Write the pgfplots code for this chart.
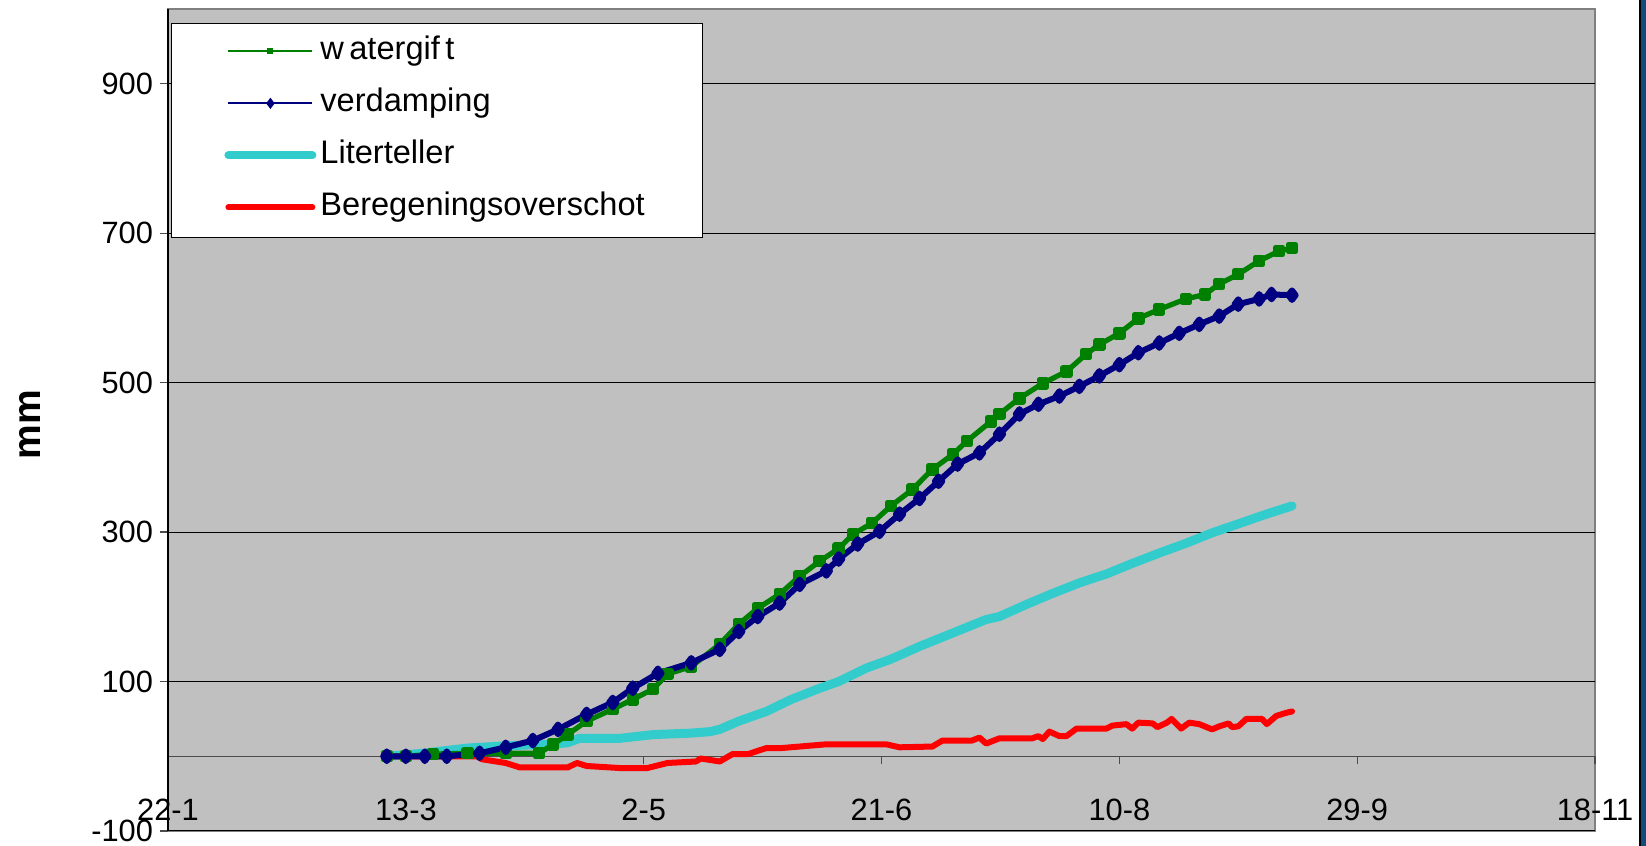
\documentclass[border=0pt]{standalone}
\usepackage{fontspec}
\setmainfont{Liberation Sans}
\usepackage{pgfplots}
\pgfplotsset{compat=1.18}

\definecolor{plotbg}{HTML}{C0C0C0}
\definecolor{framegray}{HTML}{808080}
\definecolor{wgreen}{HTML}{008000}
\definecolor{vblue}{HTML}{000080}
\definecolor{lcyan}{HTML}{33CCCC}
\definecolor{bred}{HTML}{FF0000}
\definecolor{slideblue}{HTML}{134A7C}

\begin{document}
\begin{tikzpicture}
% page size (1 px = 0.5 pt)
\useasboundingbox (-84pt,-7.5pt) rectangle (739pt,415.5pt);
% edge of the slide on the right
\fill[black] (735.5pt,-7.5pt) rectangle (736.5pt,415.5pt);
\fill[slideblue] (736.5pt,-7.5pt) rectangle (739pt,415.5pt);

\begin{axis}[
    at={(0,0)}, anchor=south west, scale only axis,
    width=713.5pt, height=411pt,
    xmin=22, xmax=322, ymin=-100, ymax=1000,
    axis x line=middle, axis y line=left,
    axis line style={-},
    x axis line style={black!70, line width=0.6pt},
    y axis line style={black, line width=0.7pt},
    axis background/.style={fill=plotbg, draw=framegray, line width=1.2pt},
    hide obscured x ticks=false, hide obscured y ticks=false,
    xtick={22,72,122,172,222,272,322},
    xticklabels={22-1,13-3,2-5,21-6,10-8,29-9,18-11},
    ytick={-100,100,300,500,700,900},
    yticklabels={-100,100,300,500,700,900},
    tick align=outside, major tick length=4pt,
    tick style={black!70, line width=0.6pt},
    ymajorgrids, grid style={black, line width=0.5pt},
    tick label style={font=\fontsize{15.4pt}{18pt}\selectfont},
    xticklabel style={anchor=north, yshift=-14pt},
    yticklabel style={anchor=east},
    ylabel={\textbf{mm}},
    every axis y label/.style={at={(axis description cs:-0.097,0.494)},
        rotate=90, anchor=center, font=\fontsize{19.5pt}{22pt}\selectfont},
    legend image code/.code={\draw[mark repeat=2,mark phase=2,#1]
        plot coordinates {(0pt,0pt) (21pt,0pt) (42pt,0pt)};},
    legend style={at={(rel axis cs:0.0021,0.9818)}, anchor=north west,
        xshift=26.5pt, yshift=-6pt, draw=none, fill=none, inner sep=0pt,
        row sep=11pt, column sep=2pt,
        nodes={inner sep=0pt, text height=11.5pt, text depth=3.5pt,
               font=\fontsize{16.3pt}{18pt}\selectfont}},
    legend cell align={left},
    clip=false,
]
% legend box
\filldraw[fill=white, draw=black, line width=0.5pt]
    (rel axis cs:0.0021,0.7214) rectangle (rel axis cs:0.3749,0.9818);

% Literteller
\addplot[lcyan, line width=4.5pt, line join=round, line cap=round, forget plot] coordinates {
(68,0) (75.6,4) (85,11) (93,14) (101.6,16) (106,18) (108.5,24) (117,24)
(124,29) (132,31) (136,33) (138,36) (142,47) (147.8,60) (153,76) (159,91)
(163,100) (168.8,118) (174,130) (180,147) (187,165) (194,183) (196.8,187)
(202.4,203) (208,218) (213.6,232) (219.3,244) (224.7,258) (230.4,272)
(236,285) (241.5,299) (247,311) (252.9,324) (258.3,335)
};
% Beregeningsoverschot
\addplot[bred, line width=3pt, line join=round, line cap=round, forget plot] coordinates {
(68,0) (87,0) (88,-4) (93,-9) (96,-15) (106,-15) (108,-9) (110,-13)
(117.6,-16) (122.6,-16) (127,-9) (133,-7) (134,-3) (138,-7) (140.7,3)
(144,3) (147.8,11) (151,11) (160.4,16) (173,16) (175.8,12) (182.7,13)
(184.8,21) (191,21) (192.6,25) (194,17) (196.8,24) (203.7,24) (205,27)
(205.9,23) (207.3,33) (209.4,27) (210.9,27) (213,37) (219.3,37) (220.5,41)
(223.5,43) (224.7,37) (226,45) (229,44) (230,39) (232,45) (233,50)
(235,37) (236.7,45) (238.8,43) (241.5,36) (243,40) (245,44) (245.7,39)
(247,40) (248.7,50) (252,50) (253,43) (255,54) (257,58) (258.3,60)
};
% watergift
\addplot[wgreen, line width=2.6pt, line join=round, mark=square*, mark size=1.8pt, forget plot] coordinates {
(68,0) (72,0) (77.7,3) (85,4) (93,4) (100,4) (103,16) (106,29) (110,47)
(115.5,63) (119.7,76) (124,90) (127,110) (132,120) (138,150) (142,177)
(146,198) (150.6,217) (154.8,241) (159,261) (163,278) (166,297) (170,312)
(174,335) (178.5,357) (182.7,384) (187,404) (190,422) (195,448)
(196.8,458) (201,479) (205.9,499) (210.9,515) (215,538) (217.8,551)
(222,566) (226,586) (230.4,598) (236,612) (240,618) (243,632) (247,645)
(251.4,663) (255.6,676) (258.3,680)
};
% verdamping
\addplot[vblue, line width=3pt, line join=round, mark=diamond*, mark size=2.4pt, forget plot] coordinates {
(68,0) (72,0) (76,0) (80.6,0) (87.5,4) (93,12) (98.7,21) (104,36) (110,56)
(115.5,72) (119.7,91) (125,111) (132,125) (138,143) (142,167) (146,187)
(150.6,205) (154.8,230) (160.4,248) (163,264) (167,284) (171.6,301)
(175.8,324) (180,345) (184,368) (188,391) (192.6,406) (196.8,431)
(201,458) (205,471) (209.4,482) (213.6,495) (217.8,509) (222,524)
(226,540) (230.4,553) (234.6,566) (238.8,578) (243,589) (247,605)
(251.4,612) (254,618) (258.3,617)
};

\addlegendimage{wgreen, line width=1pt, mark=square*, mark size=1pt}
\addlegendentry{w\,atergif\,t}
\addlegendimage{vblue, line width=1pt, mark=diamond*, mark size=2pt}
\addlegendentry{verdamping}
\addlegendimage{lcyan, line width=4pt, line cap=round}
\addlegendentry{Literteller}
\addlegendimage{bred, line width=3pt, line cap=round}
\addlegendentry{Beregeningsoverschot}
\end{axis}
\end{tikzpicture}
\end{document}
